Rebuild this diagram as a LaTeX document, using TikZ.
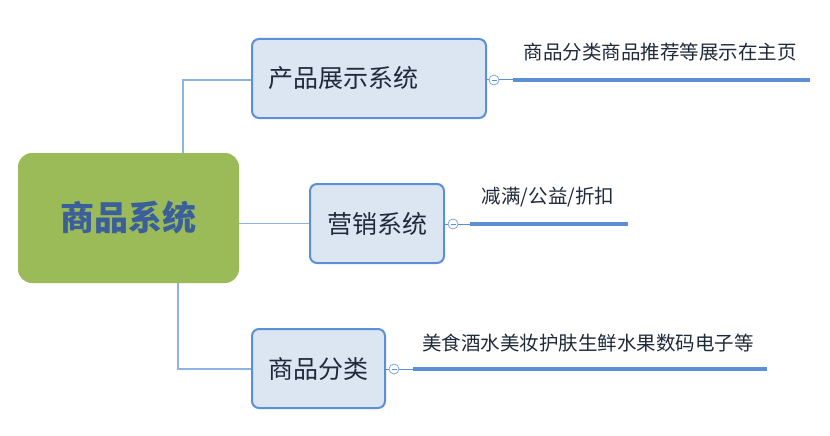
\documentclass[tikz,border=0pt]{standalone}
\usepackage{fontspec}
\newfontfamily\cjk{Noto Sans CJK SC}
\definecolor{rootgreen}{HTML}{9BBB59}
\definecolor{roottext}{HTML}{3A5F9A}
\definecolor{boxfill}{HTML}{DCE6F2}
\definecolor{boxline}{HTML}{5B8FD6}
\definecolor{linkline}{HTML}{8DB3E2}
\definecolor{txt}{HTML}{1F2A3A}
\begin{document}
\begin{tikzpicture}[x=1pt,y=-1pt,
  rootbox/.style={draw=none,fill=rootgreen,rounded corners=14pt,inner sep=0pt,
    text=roottext,font=\cjk\fontsize{34}{38}\selectfont\bfseries},
  subbox/.style={draw=boxline,line width=2pt,fill=boxfill,rounded corners=7pt,inner sep=0pt,
    text=txt,font=\cjk\fontsize{25}{30}\selectfont},
  leaftext/.style={inner sep=0pt,text=txt,font=\cjk\fontsize{19.5}{24}\selectfont},
  link/.style={draw=linkline,line width=1.2pt},
  thick line/.style={draw=boxline,line width=4pt},
  thin line/.style={draw=boxline,line width=1pt},
  collapse/.style={circle,draw=boxline!80,fill=white,line width=0.8pt,minimum size=10pt,inner sep=0pt,
    path picture={\draw[boxline,line width=0.7pt] ([xshift=-2.5pt]path picture bounding box.center) -- ([xshift=2.5pt]path picture bounding box.center);}}
]
\useasboundingbox (0,0) rectangle (830,436);
% root
\node[rootbox,minimum width=221pt,minimum height=130pt] (root) at (128.5,218) {商品系统};
% sub nodes
\node[subbox,minimum height=79pt,inner xsep=0pt,text width=234pt,align=left] (n1) at (369,78.5) {\hspace*{16pt}产品展示系统};
\node[subbox,minimum width=134pt,minimum height=79pt] (n2) at (377,223.5) {营销系统};
\node[subbox,minimum width=133pt,minimum height=79pt] (n3) at (318.5,368.5) {商品分类};
% links
\coordinate (c1) at (183,80);
\coordinate (c3) at (178,369);
\draw[link] (root.north -| c1) -- (c1) -- (n1.west |- c1);
\draw[link] (root.east |- n2.west) -- (n2.west);
\draw[link] (root.south -| c3) -- (c3) -- (n3.west |- c3);
% collapse markers
\node[collapse] (k1) at (494,80) {};
\node[collapse] (k2) at (453,224) {};
\node[collapse] (k3) at (394,369) {};
\draw[thin line] (n1.east |- k1) -- (k1.west);
\draw[thin line] (n2.east |- k2) -- (k2.west);
\draw[thin line] (n3.east |- k3) -- (k3.west);
% leaf lines
\coordinate (a1) at (513,80);  \coordinate (b1) at (810,80);
\coordinate (a2) at (470,224); \coordinate (b2) at (628,224);
\coordinate (a3) at (413,369); \coordinate (b3) at (767,369);
\draw[thin line] (k1.east) -- (a1);
\draw[thin line] (k2.east) -- (a2);
\draw[thin line] (k3.east) -- (a3);
\draw[thick line] (a1) -- (b1);
\draw[thick line] (a2) -- (b2);
\draw[thick line] (a3) -- (b3);
% leaf texts
\node[leaftext] (t1) at (660,52) {商品分类商品推荐等展示在主页};
\node[leaftext] (t2) at (548,197) {减满/公益/折扣};
\node[leaftext] (t3) at (588,343) {美食酒水美妆护肤生鲜水果数码电子等};
\end{tikzpicture}
\end{document}
